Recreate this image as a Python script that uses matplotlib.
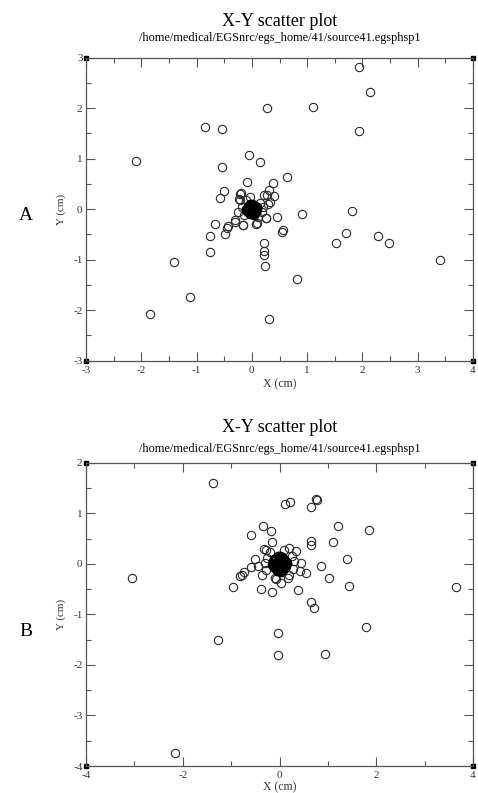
import matplotlib
matplotlib.use("Agg")
import matplotlib.pyplot as plt
from matplotlib.ticker import MultipleLocator, FuncFormatter

plt.rcParams['font.family'] = ['Liberation Serif', 'DejaVu Serif']

TITLE = "X-Y scatter plot"
SUBTITLE = "/home/medical/EGSnrc/egs_home/41/source41.egsphsp1"
XLABEL = "X (cm)"
YLABEL = "Y (cm)"

# ---------------- Panel A data ----------------
a_x = [1.94, 2.13, 0.28, 1.11, -0.85, -0.54, 1.94, -2.10, -0.05, 0.15, -0.54, 0.64,
       -0.09, 0.38, -0.50, 0.31, -0.58, -0.21, 0.40, 0.22, -0.24, -0.03, 0.29, 1.82,
       0.91, 0.45, -0.67, -0.45, -0.31, -0.49, -0.16, 0.08, 0.25, -0.75, 0.54, 0.57,
       1.71, 1.52, 2.29, 2.48, 3.41, -0.76, 0.22, 0.22, 0.22, 0.23, -1.41, 0.82,
       -1.12, -1.84, 0.31,
       -0.20, 0.27, 0.33, -0.22, -0.31, -0.16, 0.09, 0.25, -0.43, 0.15, -0.15, 0.18,
       -0.18, 0.12, -0.10, 0.20, -0.25]
a_y = [2.81, 2.32, 2.00, 2.02, 1.62, 1.58, 1.55, 0.95, 1.08, 0.93, 0.83, 0.63,
       0.54, 0.52, 0.36, 0.39, 0.22, 0.31, 0.26, 0.28, 0.21, 0.24, 0.11, -0.03,
       -0.10, -0.15, -0.29, -0.37, -0.26, -0.49, -0.32, -0.30, -0.18, -0.54, -0.45, -0.42,
       -0.48, -0.67, -0.54, -0.66, -1.00, -0.85, -0.66, -0.83, -0.90, -1.12, -1.04, -1.39,
       -1.74, -2.07, -2.17,
       0.33, 0.28, 0.15, 0.18, -0.21, -0.31, -0.28, -0.18, -0.33, 0.12, -0.12, -0.05,
       0.05, -0.16, 0.18, 0.05, -0.05]
# dense core of panel A
a_core_x = [0.00, 0.03, -0.03, 0.05, -0.05, 0.08, -0.08, 0.02, -0.02, 0.06, -0.06, 0.10,
            -0.10, 0.00, 0.00, 0.04, -0.04, 0.07, -0.07, 0.01, -0.01, 0.09, -0.09, 0.03,
            -0.03, 0.02, -0.02, 0.04, -0.04, 0.01, -0.01, 0.03, -0.03, 0.05, -0.05, 0.00,
            0.00, 0.02, -0.02, 0.06, -0.06, 0.01, -0.01, 0.04, -0.04, 0.07, -0.07, 0.03,
            -0.03, 0.00, 0.08, -0.08, 0.05, -0.05, 0.02]
a_core_y = [0.00, 0.02, -0.02, -0.04, 0.05, 0.03, -0.03, 0.08, -0.07, -0.08, 0.07, 0.00,
            0.01, 0.10, -0.10, 0.09, -0.10, -0.06, 0.06, 0.04, -0.05, 0.05, -0.04, -0.12,
            0.11, 0.01, -0.01, 0.03, -0.03, 0.05, -0.05, -0.02, 0.02, 0.00, 0.00, 0.03,
            -0.03, 0.06, -0.06, 0.01, -0.01, 0.08, -0.08, -0.02, 0.02, 0.03, -0.03, 0.07,
            -0.07, 0.06, -0.01, 0.01, 0.07, -0.07, -0.09]

# ---------------- Panel B data ----------------
b_x = [-1.38, 0.11, 0.22, 0.65, 0.75, 0.78, -0.34, -0.18, -0.58, 1.21, 1.84, 0.66,
       0.66, 1.11, -0.15, -0.32, -0.27, 0.19, 0.34, 1.39, -3.04, -0.51, -0.58, -0.45,
       0.86, 0.45, 0.55, 0.42, 1.03, 1.44, 3.65, -0.96, -0.81, -0.78, -0.73, -0.36,
       -0.39, -0.15, -0.08, 0.03, 0.17, 0.38, 0.66, 0.72, -1.27, -0.03, -0.03, 0.94,
       1.79, -2.16,
       0.25, -0.25, 0.28, -0.28, 0.10, -0.10, 0.30, -0.30, 0.20, -0.20]
b_y = [1.60, 1.19, 1.23, 1.13, 1.29, 1.26, 0.74, 0.65, 0.56, 0.74, 0.67, 0.46,
       0.38, 0.44, 0.44, 0.29, 0.28, 0.32, 0.26, 0.10, -0.28, 0.10, -0.07, -0.04,
       -0.05, 0.01, -0.19, -0.14, -0.29, -0.43, -0.46, -0.46, -0.25, -0.22, -0.17, -0.22,
       -0.50, -0.55, -0.30, -0.38, -0.28, -0.52, -0.75, -0.87, -1.50, -1.37, -1.81, -1.79,
       -1.25, -3.75,
       0.15, 0.12, -0.10, -0.12, 0.28, -0.28, 0.05, 0.02, -0.22, 0.24]
b_core_x = [0.00, 0.05, -0.05, 0.10, -0.10, 0.14, -0.14, 0.03, -0.03, 0.08, -0.08, 0.12,
            -0.12, 0.00, 0.00, 0.06, -0.06, 0.11, -0.11, 0.02, -0.02, 0.15, -0.15, 0.04,
            -0.04, 0.09, -0.09, 0.13, -0.13, 0.01, 0.02, -0.02, 0.04, -0.04, 0.06, -0.06,
            0.03, -0.03, 0.07, -0.07, 0.01, -0.01, 0.05, -0.05, 0.00, 0.08, -0.08, 0.10,
            -0.10, 0.03, -0.03, 0.06, -0.06, 0.02, -0.02, 0.09, -0.09, 0.04, -0.04, 0.11,
            -0.11, 0.07, -0.07, 0.00, 0.12]
b_core_y = [0.00, 0.03, -0.03, -0.06, 0.07, 0.04, -0.04, 0.12, -0.11, -0.12, 0.10, 0.00,
            0.02, 0.15, -0.15, 0.13, -0.14, -0.09, 0.09, 0.06, -0.07, 0.01, -0.02, -0.16,
            0.16, 0.08, -0.08, -0.05, 0.05, 0.09, 0.01, -0.01, 0.04, -0.04, 0.02, -0.02,
            0.07, -0.07, 0.00, 0.00, 0.11, -0.11, 0.06, -0.06, 0.05, 0.04, -0.04, 0.02,
            -0.02, 0.10, -0.10, 0.08, -0.08, 0.13, -0.13, 0.01, -0.01, -0.09, 0.09, 0.06,
            -0.06, 0.11, -0.11, -0.05, -0.03]

panels = [
    dict(x=a_x, y=a_y, cx=a_core_x, cy=a_core_y, xlim=(-3, 4), ylim=(-3, 3), xmaj=1,
         xmin=0.5, ymaj=1, ymin=0.5, letter="A"),
    dict(x=b_x, y=b_y, cx=b_core_x, cy=b_core_y, xlim=(-4, 4), ylim=(-4, 2), xmaj=2,
         xmin=1, ymaj=1, ymin=0.5, letter="B"),
]

W, H = 478, 793
fig = plt.figure(figsize=(W / 100, H / 100), dpi=100)

# axes pixel boxes (left, top, right, bottom)
boxes = [(86, 57.7, 473, 360.7), (86, 462.7, 473, 766)]
title_ys = [(22, 38), (427, 449)]
xlabel_y = [384, 787]
letter_y = [216, 632]

fmt = FuncFormatter(lambda v, pos: f"{v:g}")

for i, (p, box) in enumerate(zip(panels, boxes)):
    l, t, r, b = box
    ax = fig.add_axes([l / W, 1 - b / H, (r - l) / W, (b - t) / H])
    ax.plot(p["x"], p["y"], linestyle="none", marker="o", markersize=6.0,
            markerfacecolor="none", markeredgecolor="#2a2a2a", markeredgewidth=0.8)
    ax.plot(p["cx"], p["cy"], linestyle="none", marker="o", markersize=6.0,
            markerfacecolor="none", markeredgecolor="#000000", markeredgewidth=1.0)
    ax.set_xlim(*p["xlim"])
    ax.set_ylim(*p["ylim"])
    ax.xaxis.set_major_locator(MultipleLocator(p["xmaj"]))
    ax.xaxis.set_minor_locator(MultipleLocator(p["xmin"]))
    ax.yaxis.set_major_locator(MultipleLocator(p["ymaj"]))
    ax.yaxis.set_minor_locator(MultipleLocator(p["ymin"]))
    ax.tick_params(which="both", direction="in", top=True, right=True,
                   labelsize=8, colors="#555555", labelcolor="#333333", width=0.8)
    ax.tick_params(axis="y", pad=2.5)
    ax.tick_params(axis="x", pad=3.5)
    ax.tick_params(which="major", length=6.5)
    ax.tick_params(which="minor", length=3.6)
    for s in ax.spines.values():
        s.set_linewidth(0.9)
        s.set_color("#555555")
    ax.xaxis.set_major_formatter(fmt)
    ax.yaxis.set_major_formatter(fmt)
    # corner squares
    ax.plot([0, 1, 0, 1], [0, 0, 1, 1], transform=ax.transAxes, linestyle="none",
            marker="s", markersize=3, color="black", clip_on=False)

    cx = (l + r) / 2
    ty1, ty2 = title_ys[i]
    fig.text(cx / W, 1 - ty1 / H, TITLE, ha="center", va="center", fontsize=13)
    fig.text(cx / W, 1 - ty2 / H, SUBTITLE, ha="center", va="center", fontsize=8.8)
    fig.text(cx / W, 1 - xlabel_y[i] / H, XLABEL, ha="center", va="center", fontsize=8.5,
             color="#333333")
    fig.text(61 / W, 1 - (t + b) / 2 / H, YLABEL, ha="center", va="center", fontsize=8,
             rotation=90, color="#333333")
    fig.text(26 / W, 1 - letter_y[i] / H, p["letter"], ha="center", va="center", fontsize=14)

fig.savefig("out.png", dpi=100)
